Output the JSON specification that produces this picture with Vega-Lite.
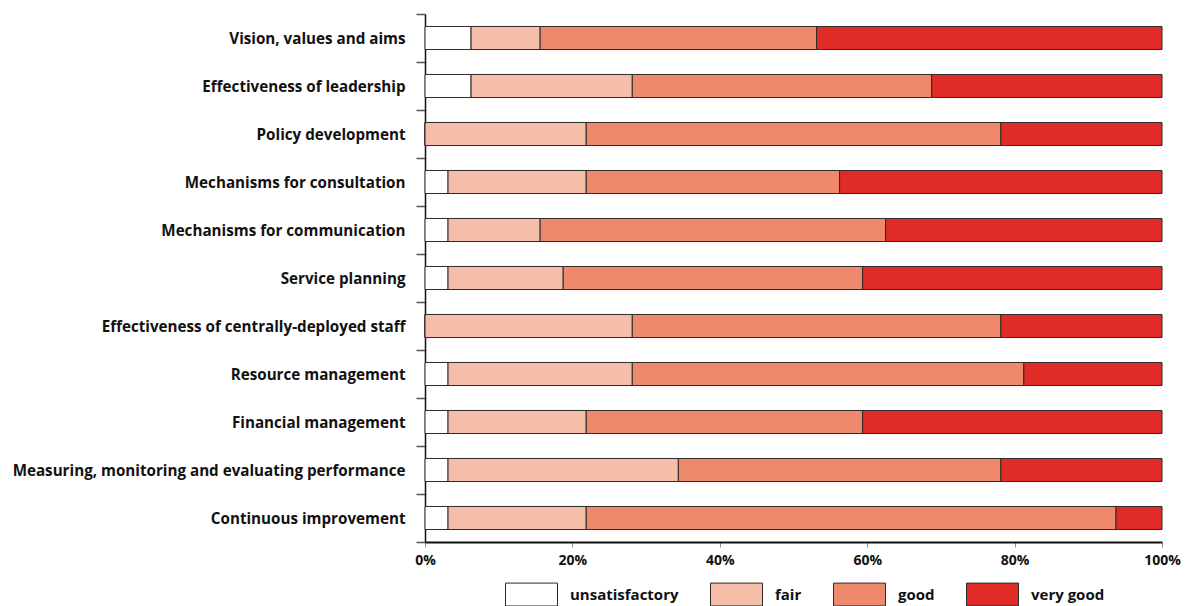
{
  "$schema": "https://vega.github.io/schema/vega-lite/v6.json",
  "width": 737,
  "height": 528,
  "autosize": {"type": "none"},
  "padding": {"left": 425, "top": 14, "right": 23, "bottom": 64},
  "background": "white",
  "config": {
    "view": {"stroke": null},
    "font": "Open Sans",
    "text": {"font": "Open Sans"}
  },
  "data": {
    "values": [
      {"area": "Vision, values and aims", "rating": "unsatisfactory", "k": 1, "n": 2},
      {"area": "Vision, values and aims", "rating": "fair", "k": 2, "n": 3},
      {"area": "Vision, values and aims", "rating": "good", "k": 3, "n": 12},
      {"area": "Vision, values and aims", "rating": "very good", "k": 4, "n": 15},
      {"area": "Effectiveness of leadership", "rating": "unsatisfactory", "k": 1, "n": 2},
      {"area": "Effectiveness of leadership", "rating": "fair", "k": 2, "n": 7},
      {"area": "Effectiveness of leadership", "rating": "good", "k": 3, "n": 13},
      {"area": "Effectiveness of leadership", "rating": "very good", "k": 4, "n": 10},
      {"area": "Policy development", "rating": "unsatisfactory", "k": 1, "n": 0},
      {"area": "Policy development", "rating": "fair", "k": 2, "n": 7},
      {"area": "Policy development", "rating": "good", "k": 3, "n": 18},
      {"area": "Policy development", "rating": "very good", "k": 4, "n": 7},
      {"area": "Mechanisms for consultation", "rating": "unsatisfactory", "k": 1, "n": 1},
      {"area": "Mechanisms for consultation", "rating": "fair", "k": 2, "n": 6},
      {"area": "Mechanisms for consultation", "rating": "good", "k": 3, "n": 11},
      {"area": "Mechanisms for consultation", "rating": "very good", "k": 4, "n": 14},
      {"area": "Mechanisms for communication", "rating": "unsatisfactory", "k": 1, "n": 1},
      {"area": "Mechanisms for communication", "rating": "fair", "k": 2, "n": 4},
      {"area": "Mechanisms for communication", "rating": "good", "k": 3, "n": 15},
      {"area": "Mechanisms for communication", "rating": "very good", "k": 4, "n": 12},
      {"area": "Service planning", "rating": "unsatisfactory", "k": 1, "n": 1},
      {"area": "Service planning", "rating": "fair", "k": 2, "n": 5},
      {"area": "Service planning", "rating": "good", "k": 3, "n": 13},
      {"area": "Service planning", "rating": "very good", "k": 4, "n": 13},
      {"area": "Effectiveness of centrally-deployed staff", "rating": "unsatisfactory", "k": 1, "n": 0},
      {"area": "Effectiveness of centrally-deployed staff", "rating": "fair", "k": 2, "n": 9},
      {"area": "Effectiveness of centrally-deployed staff", "rating": "good", "k": 3, "n": 16},
      {"area": "Effectiveness of centrally-deployed staff", "rating": "very good", "k": 4, "n": 7},
      {"area": "Resource management", "rating": "unsatisfactory", "k": 1, "n": 1},
      {"area": "Resource management", "rating": "fair", "k": 2, "n": 8},
      {"area": "Resource management", "rating": "good", "k": 3, "n": 17},
      {"area": "Resource management", "rating": "very good", "k": 4, "n": 6},
      {"area": "Financial management", "rating": "unsatisfactory", "k": 1, "n": 1},
      {"area": "Financial management", "rating": "fair", "k": 2, "n": 6},
      {"area": "Financial management", "rating": "good", "k": 3, "n": 12},
      {"area": "Financial management", "rating": "very good", "k": 4, "n": 13},
      {"area": "Measuring, monitoring and evaluating performance", "rating": "unsatisfactory", "k": 1, "n": 1},
      {"area": "Measuring, monitoring and evaluating performance", "rating": "fair", "k": 2, "n": 10},
      {"area": "Measuring, monitoring and evaluating performance", "rating": "good", "k": 3, "n": 14},
      {"area": "Measuring, monitoring and evaluating performance", "rating": "very good", "k": 4, "n": 7},
      {"area": "Continuous improvement", "rating": "unsatisfactory", "k": 1, "n": 1},
      {"area": "Continuous improvement", "rating": "fair", "k": 2, "n": 6},
      {"area": "Continuous improvement", "rating": "good", "k": 3, "n": 23},
      {"area": "Continuous improvement", "rating": "very good", "k": 4, "n": 2}
    ]
  },
  "mark": {
    "type": "bar",
    "stroke": "#2b2b2b",
    "strokeWidth": 1,
    "height": {"band": 0.48}
  },
  "encoding": {
    "y": {
      "field": "area",
      "type": "nominal",
      "sort": null,
      "scale": {"paddingInner": 0, "paddingOuter": 0},
      "axis": {
        "title": null,
        "tickBand": "extent",
        "domainColor": "#111",
        "domainWidth": 1.5,
        "tickColor": "#555",
        "tickSize": 9,
        "tickWidth": 1.5,
        "labelFont": "Open Sans",
        "labelFontSize": 15.2,
        "labelFontWeight": "bold",
        "labelColor": "#111",
        "labelPadding": 11,
        "labelLimit": 500
      }
    },
    "x": {
      "field": "n",
      "type": "quantitative",
      "stack": "normalize",
      "scale": {"domain": [0, 1], "nice": false},
      "axis": {
        "title": null,
        "grid": false,
        "format": ".0%",
        "values": [0, 0.2, 0.4, 0.6, 0.8, 1],
        "domainColor": "#111",
        "domainWidth": 2,
        "tickColor": "#8a8f9a",
        "tickSize": 5,
        "tickWidth": 1,
        "labelFont": "Open Sans",
        "labelFontSize": 14,
        "labelFontWeight": "bold",
        "labelColor": "#111",
        "labelPadding": 6,
        "labelFlush": false,
        "labelOverlap": false
      }
    },
    "order": {"field": "k", "type": "quantitative"},
    "color": {
      "field": "rating",
      "type": "nominal",
      "scale": {
        "domain": ["unsatisfactory", "fair", "good", "very good"],
        "range": ["#ffffff", "#f6bda8", "#ee8a6b", "#e02b26"]
      },
      "legend": {
        "title": null,
        "orient": "none",
        "direction": "horizontal",
        "legendX": 80,
        "legendY": 554,
        "symbolType": "M-1,-0.44H1V0.44H-1Z",
        "symbolSize": 2704,
        "symbolStrokeColor": "#2b2b2b",
        "symbolStrokeWidth": 1,
        "symbolOpacity": 1,
        "columnPadding": 29,
        "labelOffset": 12,
        "labelFont": "Open Sans",
        "labelFontSize": 15,
        "labelFontWeight": "bold",
        "labelColor": "#111"
      }
    }
  }
}
